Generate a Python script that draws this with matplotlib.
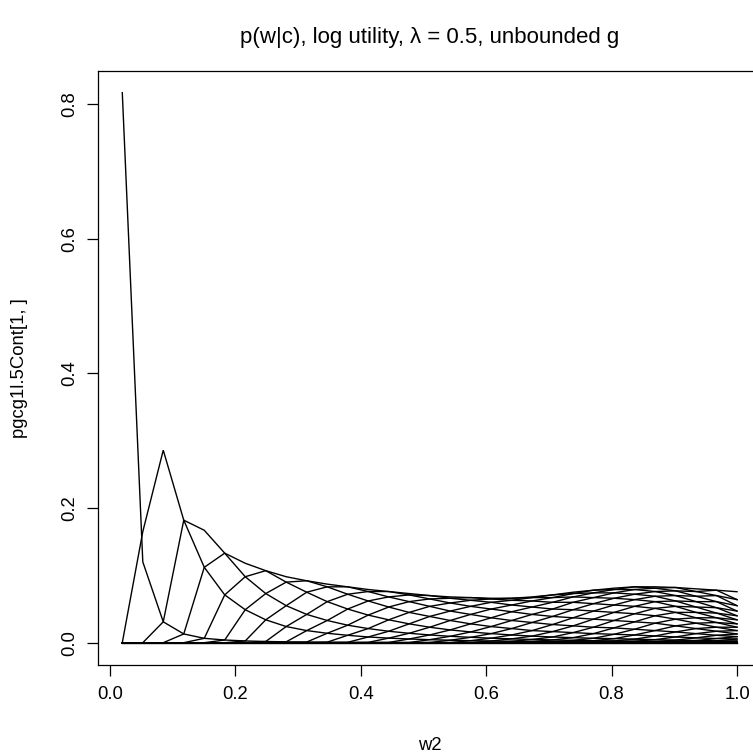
import matplotlib
matplotlib.use("Agg")
import matplotlib.pyplot as plt
import numpy as np

plt.rcParams['font.family'] = ['Liberation Sans', 'DejaVu Sans']

# w2 grid (31 points from 0.02 to 1.0)
w2 = [0.02, 0.0527, 0.0853, 0.118, 0.1507, 0.1833, 0.216, 0.2487, 0.2813, 0.314,
      0.3467, 0.3793, 0.412, 0.4447, 0.4773, 0.51, 0.5427, 0.5753, 0.608, 0.6407,
      0.6733, 0.706, 0.7387, 0.7713, 0.804, 0.8367, 0.8693, 0.902, 0.9347, 0.9673, 1.0]

# values read at each w2 grid point: entry i lists the curve values meeting there,
# from the outermost pair of curves towards the centre (curve a and curve i+1-a share a value)
cross_sections = [
    [0.817],
    [0.120],
    [0.031, 0.286],
    [0.013, 0.182],
    [0.0065, 0.112, 0.167],
    [0.0040, 0.071, 0.133],
    [0.0026, 0.049, 0.098, 0.118],
    [0.0018, 0.034, 0.073, 0.107],
    [0.0013, 0.024, 0.055, 0.090, 0.098],
    [0.0010, 0.018, 0.042, 0.075, 0.092],
    [0.0008, 0.014, 0.033, 0.061, 0.083, 0.087],
    [0.0006, 0.011, 0.026, 0.050, 0.072, 0.083],
    [0.0005, 0.0085, 0.021, 0.041, 0.062, 0.076, 0.079],
    [0.0004, 0.0068, 0.017, 0.034, 0.053, 0.068, 0.076],
    [0.0003, 0.0055, 0.014, 0.028, 0.045, 0.061, 0.071, 0.073],
    [0.0003, 0.0045, 0.0115, 0.023, 0.039, 0.054, 0.065, 0.070],
    [0.0002, 0.0037, 0.0095, 0.019, 0.033, 0.047, 0.059, 0.066, 0.068],
    [0.0002, 0.0030, 0.0080, 0.016, 0.028, 0.042, 0.054, 0.063, 0.067],
    [0.0002, 0.0025, 0.0067, 0.0135, 0.024, 0.037, 0.050, 0.060, 0.065, 0.066],
    [0.0001, 0.0021, 0.0057, 0.0115, 0.021, 0.033, 0.046, 0.056, 0.063, 0.066],
    [0.0001, 0.0018, 0.0048, 0.0098, 0.018, 0.030, 0.042, 0.053, 0.062, 0.067, 0.068],
    [0.0001, 0.0015, 0.0041, 0.0085, 0.0165, 0.027, 0.039, 0.050, 0.060, 0.067, 0.071],
    [0.0001, 0.0013, 0.0035, 0.0075, 0.015, 0.025, 0.037, 0.049, 0.060, 0.068, 0.073, 0.075],
    [0.0001, 0.0011, 0.0030, 0.0066, 0.0135, 0.023, 0.035, 0.047, 0.058, 0.067, 0.074, 0.078],
    [0.0001, 0.0009, 0.0026, 0.0060, 0.0125, 0.022, 0.033, 0.045, 0.056, 0.066, 0.074, 0.079, 0.081],
    [0.0001, 0.0008, 0.0022, 0.0053, 0.0115, 0.020, 0.031, 0.043, 0.054, 0.064, 0.072, 0.079, 0.083],
    [0.0, 0.0007, 0.0018, 0.0045, 0.010, 0.018, 0.029, 0.040, 0.051, 0.061, 0.069, 0.076, 0.081, 0.083],
    [0.0, 0.0006, 0.0015, 0.0038, 0.0085, 0.016, 0.025, 0.035, 0.045, 0.054, 0.062, 0.070, 0.077, 0.082],
    [0.0, 0.0005, 0.0012, 0.0032, 0.0072, 0.0135, 0.021, 0.029, 0.037, 0.045, 0.053, 0.061, 0.069, 0.076, 0.080],
    [0.0, 0.0004, 0.0011, 0.0028, 0.0062, 0.011, 0.017, 0.023, 0.030, 0.037, 0.044, 0.052, 0.061, 0.070, 0.078],
    [0.0, 0.0004, 0.0010, 0.0025, 0.0055, 0.009, 0.013, 0.018, 0.023, 0.028, 0.034, 0.040, 0.047, 0.055, 0.064, 0.0757],
]

# individual readings that differ from the shared value: (curve, grid point) -> value
overrides = {(2, 2): 0.165}

x_ticks = [0.0, 0.2, 0.4, 0.6, 0.8, 1.0]
y_ticks = [0.0, 0.2, 0.4, 0.6, 0.8]

title = "p(w|c), log utility, λ = 0.5, unbounded g"
xlabel = "w2"
ylabel = "pgcg1l.5Cont[1, ]"

# assemble matrix: row a (curve), column i (grid point)
n = len(w2)
P = np.zeros((n, n))
for i in range(1, n + 1):
    s = i + 1
    vals = cross_sections[i - 1]
    for a in range(1, i + 1):
        b = s - a
        P[a - 1, i - 1] = vals[min(a, b) - 1]
for (a, i), v in overrides.items():
    P[a - 1, i - 1] = v

W, H = 753, 754
fig = plt.figure(figsize=(W / 100, H / 100), dpi=100)
left, right, top, bottom = 97.7, 761.6, 70.7, 664.7
ax = fig.add_axes([left / W, 1 - bottom / H, (right - left) / W, (bottom - top) / H])

for row in P:
    ax.plot(w2, row, color='black', lw=1.0, solid_joinstyle='miter')

xmin, xmax = min(w2), max(w2)
ymin, ymax = float(P.min()), float(P.max())
dx, dy = (xmax - xmin) * 0.04, (ymax - ymin) * 0.04
ax.set_xlim(xmin - dx, xmax + dx)
ax.set_ylim(ymin - dy, ymax + dy)

ax.set_xticks(x_ticks)
ax.set_xticklabels([f"{t:.1f}" for t in x_ticks])
ax.set_yticks(y_ticks)
ax.set_yticklabels([f"{t:.1f}" for t in y_ticks], rotation=90, va='center')
ax.tick_params(direction='out', length=8, width=0.9, labelsize=13.3, colors='black', pad=7)
ax.tick_params(axis='y', pad=6)
for sp in ax.spines.values():
    sp.set_linewidth(0.9)
    sp.set_color('black')

fig.text((left + right) / 2 / W, 1 - 38 / H, title, ha='center', va='center', fontsize=16)
fig.text((left + right) / 2 / W, 1 - 745 / H, xlabel, ha='center', va='center', fontsize=13.3)
fig.text(20 / W, 1 - ((top + bottom) / 2) / H, ylabel, ha='center', va='center', rotation=90, fontsize=13.3)

fig.savefig("out.png", dpi=100)
